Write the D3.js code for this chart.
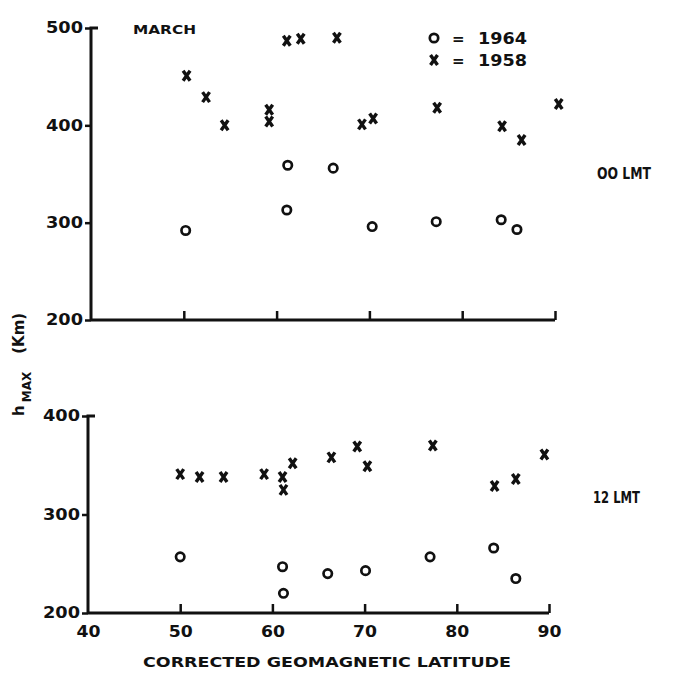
<!DOCTYPE html>
<html>
<head>
<meta charset="utf-8">
<script src="https://cdn.jsdelivr.net/npm/d3@7"></script>
<style>
  body { margin: 0; background: #fff; }
  svg text { font-family: "DejaVu Sans", sans-serif; font-weight: bold; fill: #111; }
</style>
</head>
<body>
<svg width="675" height="678"></svg>
<script>
// latitude (deg) and h max (km)
const top1958Lat = [50.3, 52.4, 54.4, 59.2, 59.2, 61.1, 62.6, 66.5, 69.2, 70.4, 77.3, 84.3, 86.4, 90.4];
const top1958H   = [451, 429, 400, 416, 404, 487, 489, 490, 401, 407, 418, 399, 385, 422];
const top1964Lat = [50.2, 61.2, 61.1, 66.1, 70.3, 77.2, 84.2, 85.9];
const top1964H   = [292, 359, 313, 356, 296, 301, 303, 293];

const bot1958Lat = [50.0, 52.1, 54.7, 59.1, 61.1, 61.2, 62.2, 66.4, 69.2, 70.3, 77.4, 84.1, 86.4, 89.5];
const bot1958H   = [341, 338, 338, 341, 338, 325, 352, 358, 369, 349, 370, 329, 336, 361];
const bot1964Lat = [50.0, 61.1, 61.2, 66.0, 70.1, 77.1, 84.0, 86.4];
const bot1964H   = [257, 247, 220, 240, 243, 257, 266, 235];

const xTicks = [40, 50, 60, 70, 80, 90];
const topYTicks = [200, 300, 400, 500];
const botYTicks = [200, 300, 400];

const zip = (a, b) => a.map((v, i) => ({lat: v, h: b[i]}));

const svg = d3.select('svg');

function panel(opts) {
  const x = d3.scaleLinear().domain([40, 90]).range(opts.xr);
  const y = d3.scaleLinear().domain(opts.yd).range(opts.yr);
  const g = svg.append('g');

  // y axis, ticks outward
  const ya = g.append('g')
    .attr('transform', `translate(${x(40)},0)`)
    .call(d3.axisLeft(y).tickValues(opts.yTicks).tickSize(6).tickPadding(2).tickFormat(d3.format('d')));
  ya.select('.domain').attr('d', `M0,${y(opts.yd[0])}V${y(opts.yd[1])}h7`);

  // x axis, ticks inward
  const xa = g.append('g')
    .attr('transform', `translate(0,${y(opts.yd[0])})`)
    .call(d3.axisBottom(x).tickValues(xTicks).tickSize(-9).tickPadding(17)
      .tickFormat(opts.xLabels ? d3.format('d') : ''));
  xa.select('.domain').attr('d', `M${x(40)},0H${x(90)}`);
  xa.selectAll('.tick').filter(d => d === 40).select('line').remove();

  [ya, xa].forEach(a => {
    a.select('.domain').attr('stroke', '#111').attr('stroke-width', 3).attr('fill', 'none');
    a.selectAll('.tick line').attr('stroke', '#111').attr('stroke-width', 2.5);
    a.selectAll('.tick text').attr('font-size', 15).attr('fill', '#111')
      .attr('font-family', '"DejaVu Sans", sans-serif').attr('font-weight', 'bold');
  });
  ya.selectAll('.tick text').attr('textLength', 37).attr('lengthAdjust', 'spacingAndGlyphs');
  xa.selectAll('.tick text').attr('textLength', 24).attr('lengthAdjust', 'spacingAndGlyphs').attr('dy', '0.45em');

  g.selectAll('.p64').data(zip(opts.lat64, opts.h64)).enter()
    .append('circle').classed('p64', true)
    .attr('cx', d => x(d.lat)).attr('cy', d => y(d.h)).attr('r', 4.2)
    .attr('fill', 'none').attr('stroke', '#111').attr('stroke-width', 2.7);

  g.selectAll('.p58').data(zip(opts.lat58, opts.h58)).enter()
    .append('path').classed('p58', true)
    .attr('transform', d => `translate(${x(d.lat)},${y(d.h)})`)
    .attr('d', 'M-3.5,-5L3.5,5M3.5,-5L-3.5,5')
    .attr('stroke', '#111').attr('stroke-width', 3.4).attr('fill', 'none');
  return g;
}

panel({xr: [91, 555], yd: [200, 500], yr: [320, 28], yTicks: topYTicks,
  lat58: top1958Lat, h58: top1958H, lat64: top1964Lat, h64: top1964H, xLabels: false});
panel({xr: [88, 549], yd: [200, 400], yr: [613, 416], yTicks: botYTicks,
  lat58: bot1958Lat, h58: bot1958H, lat64: bot1964Lat, h64: bot1964H, xLabels: true});

// labels
svg.append('text').attr('x', 133).attr('y', 34).attr('font-size', 13)
  .attr('textLength', 63).attr('lengthAdjust', 'spacingAndGlyphs').text('MARCH');

svg.append('circle').attr('cx', 434).attr('cy', 38).attr('r', 4.2)
  .attr('fill', 'none').attr('stroke', '#111').attr('stroke-width', 2.7);
svg.append('path').attr('transform', 'translate(434,60)')
  .attr('d', 'M-3.5,-5L3.5,5M3.5,-5L-3.5,5').attr('stroke', '#111').attr('stroke-width', 3.4);
svg.append('text').attr('x', 452).attr('y', 44).attr('font-size', 15).text('=');
svg.append('text').attr('x', 452).attr('y', 66).attr('font-size', 15).text('=');
svg.append('text').attr('x', 478).attr('y', 44).attr('font-size', 15)
  .attr('textLength', 49).attr('lengthAdjust', 'spacingAndGlyphs').text('1964');
svg.append('text').attr('x', 478).attr('y', 66).attr('font-size', 15)
  .attr('textLength', 49).attr('lengthAdjust', 'spacingAndGlyphs').text('1958');

svg.append('text').attr('x', 597).attr('y', 179).attr('font-size', 15)
  .attr('textLength', 54).attr('lengthAdjust', 'spacingAndGlyphs').text('OO LMT');
svg.append('text').attr('x', 593).attr('y', 503).attr('font-size', 15)
  .attr('textLength', 47).attr('lengthAdjust', 'spacingAndGlyphs').text('12 LMT');

svg.append('text').attr('x', 143).attr('y', 667).attr('font-size', 14)
  .attr('textLength', 368).attr('lengthAdjust', 'spacingAndGlyphs')
  .text('CORRECTED GEOMAGNETIC LATITUDE');

const yl = svg.append('text').attr('transform', 'translate(24,416) rotate(-90)').attr('font-size', 15);
yl.append('tspan').text('h');
yl.append('tspan').attr('dy', 7).attr('dx', 3).attr('font-size', 12).text('MAX');
yl.append('tspan').attr('dy', -7).attr('dx', 18).text('(Km)');
</script>
</body>
</html>
